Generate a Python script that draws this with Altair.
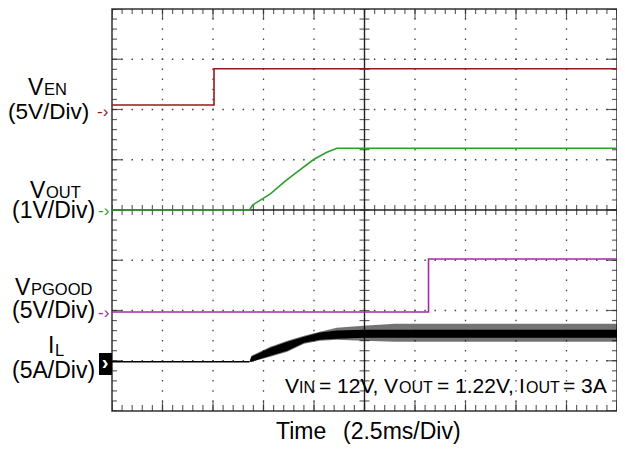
import altair as alt
import pandas as pd

# ---------------- data (time in ms, 2.5 ms/div; values in physical units) ----
en_t = [0.0, 5.05, 5.05, 25.0]
en_v = [0.45, 0.45, 4.05, 4.05]          # V, 5 V/div

vout_t = [0.0, 6.81, 6.96, 7.84, 8.53, 9.17, 10.0, 10.64, 11.13, 25.0]
vout_v = [0.0, 0.0, 0.10, 0.32, 0.56, 0.76, 1.01, 1.15, 1.23, 1.23]   # V, 1 V/div

pg_t = [0.0, 15.67, 15.67, 25.0]
pg_v = [0.0, 0.0, 5.27, 5.27]            # V, 5 V/div

il_flat_t = [0.0, 6.81]
il_flat_v = [0.0, 0.0]
il_t = [6.81, 6.90, 7.84, 8.68, 9.51, 10.29, 11.13, 12.45, 14.0, 25.0]
il_outer_lo = [0.0, 0.0, 0.50, 0.99, 1.79, 2.09, 2.19, 2.09, 1.99, 1.99]
il_outer_hi = [0.0, 0.60, 1.49, 2.09, 2.59, 2.99, 3.38, 3.58, 3.78, 3.78]
il_body_lo = [0.0, 0.0, 0.60, 1.10, 1.90, 2.20, 2.30, 2.39, 2.39, 2.39]
il_body_hi = [0.0, 0.50, 1.40, 2.00, 2.50, 2.90, 3.10, 3.18, 3.18, 3.18]

# channel ground position (divisions from centre) and scale (units/div)
EN_OFF, EN_SC = 2.0, 5.0
VO_OFF, VO_SC = 0.0, 1.0
PG_OFF, PG_SC = -2.03, 5.0
IL_OFF, IL_SC = -3.02, 5.0

C_EN = "#8e1c1c"
C_VO = "#2e9e2e"
C_PG = "#a02ea6"

W, H = 505, 402
PAD_L, PAD_T, PAD_R, PAD_B = 104, 1, 0, 33
X0, Y0 = 8 + PAD_L, 8 + PAD_T          # page position of plot origin
FONT = "Liberation Sans"

xs = alt.Scale(domain=[0, 25], nice=False, zero=False)
ys = alt.Scale(domain=[-4, 4], nice=False, zero=False)
X = lambda f: alt.X(f, type="quantitative", scale=xs, axis=None)
Y = lambda f: alt.Y(f, type="quantitative", scale=ys, axis=None)


def trace(t, v, off, sc, color):
    df = pd.DataFrame({"t": t, "y": [off + a / sc for a in v], "i": list(range(len(t)))})
    return alt.Chart(df).mark_line(color=color, strokeWidth=1.6).encode(
        x=X("t"), y=Y("y"), order=alt.Order("i:Q"),
    )


def band(t, lo, hi, off, sc, opacity):
    df = pd.DataFrame({"t": t,
                       "lo": [off + a / sc for a in lo],
                       "hi": [off + a / sc for a in hi]})
    return alt.Chart(df).mark_area(color="black", opacity=opacity).encode(
        x=X("t"), y=Y("lo"), y2=alt.Y2("hi"),
    )


def txt(s, xp, yp, size, color="black", align="left", baseline="alphabetic", weight="normal"):
    df = pd.DataFrame({"s": [s]})
    return alt.Chart(df).mark_text(
        font=FONT, fontSize=size, color=color, align=align, baseline=baseline,
        fontWeight=weight,
    ).encode(x=alt.value(xp - X0), y=alt.value(yp - Y0), text="s:N")


# ---------------- grid ----------------
major_x = [i * 2.5 for i in range(11)]
minor_x = [i * 0.5 for i in range(51)]
major_y = [float(i) for i in range(-4, 5)]
minor_y = [-4 + i * 0.2 for i in range(41)]

gv_x = [v for v in major_x if 0 < v < 25 and v != 12.5]
gh_y = [v for v in major_y if -4 < v < 4 and v != 0]
gv = pd.DataFrame({"x": gv_x, "y1": [4.0] * len(gv_x), "y2": [-4.0] * len(gv_x)})
gh = pd.DataFrame({"y": gh_y, "x1": [0.0] * len(gh_y), "x2": [25.0] * len(gh_y)})

grid_v = alt.Chart(gv).mark_rule(color="#444", strokeWidth=1.3,
                                 strokeDash=[1.5, 8.55], strokeDashOffset=0.75).encode(
    x=X("x"), y=Y("y1"), y2=alt.Y2("y2"))
grid_h = alt.Chart(gh).mark_rule(color="#444", strokeWidth=1.3,
                                 strokeDash=[1.5, 8.6], strokeDashOffset=0.75).encode(
    y=Y("y"), x=X("x1"), x2=alt.X2("x2"))

cross_h = alt.Chart(pd.DataFrame({"y": [0.0], "x1": [0.0], "x2": [25.0]})).mark_rule(
    color="#222", strokeWidth=1.4).encode(y=Y("y"), x=X("x1"), x2=alt.X2("x2"))
cross_v = alt.Chart(pd.DataFrame({"x": [12.5], "y1": [4.0], "y2": [-4.0]})).mark_rule(
    color="#222", strokeWidth=1.4).encode(x=X("x"), y=Y("y1"), y2=alt.Y2("y2"))


def vticks(pos, yv, size):
    df = pd.DataFrame({"x": pos, "y": [yv] * len(pos)})
    return alt.Chart(df).mark_tick(orient="vertical", size=size, thickness=1.2,
                                   color="#222", clip=True).encode(x=X("x"), y=Y("y"))


def hticks(pos, xv, size):
    df = pd.DataFrame({"y": pos, "x": [xv] * len(pos)})
    return alt.Chart(df).mark_tick(orient="horizontal", size=size, thickness=1.2,
                                   color="#222", clip=True).encode(x=X("x"), y=Y("y"))


ticks = [
    vticks(minor_x, 0.0, 10), hticks(minor_y, 12.5, 10),
    vticks(minor_x, 4.0, 10), vticks(minor_x, -4.0, 12),
    vticks(major_x, 4.0, 20), vticks(major_x, -4.0, 20),
    hticks(minor_y, 0.0, 10), hticks(minor_y, 25.0, 10),
    hticks(major_y, 0.0, 20), hticks(major_y, 25.0, 20),
]

# ---------------- traces ----------------
traces = [
    trace(en_t, en_v, EN_OFF, EN_SC, C_EN),
    trace(pg_t, pg_v, PG_OFF, PG_SC, C_PG),
    trace(il_flat_t, il_flat_v, IL_OFF, IL_SC, "black"),
    band(il_t, il_outer_lo, il_outer_hi, IL_OFF, IL_SC, 0.55),
    band(il_t, il_body_lo, il_body_hi, IL_OFF, IL_SC, 1.0),
    trace(vout_t, vout_v, VO_OFF, VO_SC, C_VO),
]

# ---------------- labels ----------------
marker_box = alt.Chart(pd.DataFrame({"a": [0]})).mark_rect(color="black").encode(
    x=alt.value(99 - X0), x2=alt.value(X0 - X0), y=alt.value(353 - Y0), y2=alt.value(375 - Y0))

labels = [
    txt("V", 28, 95, 23), txt("EN", 44, 95, 16.5),
    txt("(5V/Div)", 8, 119, 22.5),
    txt("-›", 97, 112, 17, C_EN, baseline="middle"),
    txt("V", 30, 198, 23), txt("OUT", 46, 198, 16.5),
    txt("(1V/Div)", 12, 218, 23),
    txt("-›", 98, 211, 17, C_VO, baseline="middle"),
    txt("V", 15, 295, 23), txt("PGOOD", 31, 295, 16.5),
    txt("(5V/Div)", 12, 318, 23),
    txt("-›", 98, 313, 17, C_PG, baseline="middle"),
    txt("I", 48, 353, 23), txt("L", 55, 356, 16.5),
    txt("(5A/Div)", 12, 378, 23),
    marker_box,
    txt("›", 105, 363, 20, "white", align="center", baseline="middle", weight="bold"),
    txt("V", 285, 393, 21), txt("IN", 299, 393, 16),
    txt("= 12V,", 319, 393, 21),
    txt("V", 384, 393, 21), txt("OUT", 399, 393, 16),
    txt("= 1.22V,", 437, 393, 21),
    txt("I", 519, 393, 21), txt("OUT", 526, 393, 16),
    txt("= 3A", 563, 393, 21),
    txt("Time", 276, 439, 23),
    txt("(2.5ms/Div)", 343, 439, 23),
]

chart = alt.layer(
    grid_v, grid_h, cross_h, cross_v, *ticks, *traces, *labels
).properties(
    width=W, height=H,
    padding={"left": PAD_L, "top": PAD_T, "right": PAD_R, "bottom": PAD_B},
    autosize=alt.AutoSizeParams(type="none"),
).configure_view(stroke="#333", strokeWidth=1.5)

chart.save("out.html", embed_options={"renderer": "svg", "actions": False})
